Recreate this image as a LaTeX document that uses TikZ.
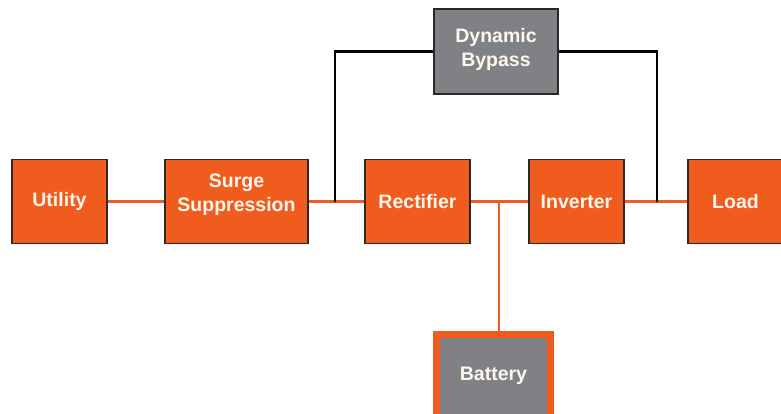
\documentclass[tikz,border=0pt]{standalone}
\usepackage{fontspec}
\setmainfont{Liberation Sans}
\definecolor{upsorange}{RGB}{240,92,30}
\definecolor{upsgray}{RGB}{128,129,132}
\definecolor{upsedge}{RGB}{45,40,38}
\definecolor{upstext}{RGB}{255,246,238}
\begin{document}
\begin{tikzpicture}[x=1pt,y=-1pt,
  blkfont/.style={font=\bfseries\fontsize{19.5}{24.5}\selectfont},
  blk/.style={rectangle, draw=upsedge, line width=1.1pt, fill=upsorange, text=upstext,
    blkfont, align=center, inner sep=0pt},
  bypassbox/.style={blk, fill=upsgray},
  batbox/.style={rectangle, draw=upsorange, line width=7pt, fill=upsgray, text=upstext,
    blkfont, inner sep=0pt, minimum width=114pt, minimum height=83pt},
  raisedtext/.style={align=center, text=upstext, blkfont, inner sep=0pt, yshift=7pt},
  oline/.style={draw=upsorange, line width=2.2pt},
  bline/.style={draw=black, line width=2.6pt}]
\clip (0,0) rectangle (781,414);
\fill[white] (0,0) rectangle (781,414);
\node[blk, minimum width=95pt, minimum height=84.5pt] (util) at (59.5,201.5) {Utility};
\node[blk, minimum width=143pt, minimum height=84.5pt,
  label={[raisedtext]center:{Surge\\Suppression}}] (surge) at (236.5,201.5) {};
\node[blk, minimum width=105pt, minimum height=84.5pt] (rect) at (417.5,201.5) {Rectifier};
\node[blk, minimum width=95pt, minimum height=84.5pt] (inv) at (576.5,201.5) {Inverter};
\node[blk, minimum width=95pt, minimum height=84.5pt] (load) at (735.5,201.5) {Load};
\node[bypassbox, minimum width=124pt, minimum height=85pt,
  label={[raisedtext, yshift=-5pt]center:{Dynamic\\Bypass}}] (byp) at (496,51.5) {};
\node[batbox] (bat) at (493.5,376) {Battery};
\coordinate (jl) at (335,201.5);
\coordinate (jb) at (499,201.5);
\coordinate (jr) at (657,201.5);
\draw[oline] (util.east) -- (surge.west);
\draw[oline] (surge.east) -- (rect.west);
\draw[oline] (rect.east) -- (inv.west);
\draw[oline] (inv.east) -- (load.west);
\draw[oline] (jb) -- (jb |- bat.north);
\draw[bline] (jl) -- (jl |- byp.west) -- (byp.west);
\draw[bline] (byp.east) -- (jr |- byp.east) -- (jr);
\end{tikzpicture}
\end{document}
